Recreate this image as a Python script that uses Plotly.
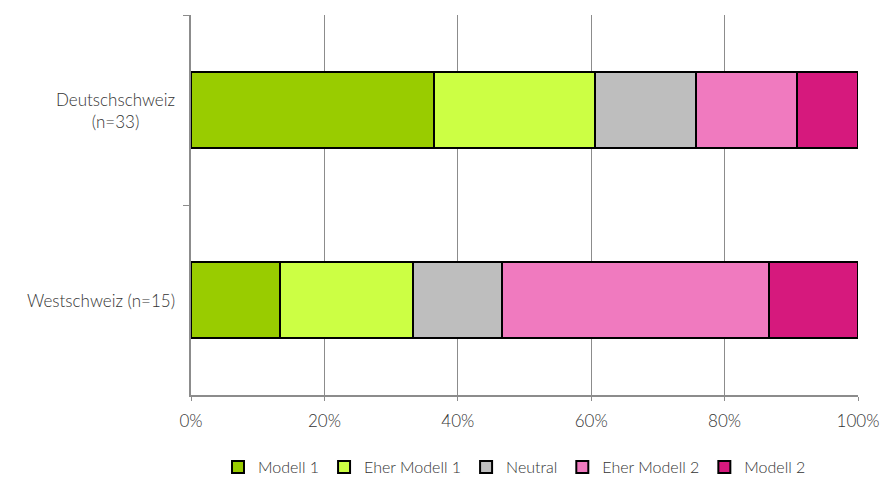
import plotly.graph_objects as go

# Regions (top to bottom) and share of answers per category, in percent
regions = ["Deutschschweiz<br>(n=33)", "Westschweiz (n=15)"]
categories = ["Modell 1", "Eher Modell 1", "Neutral", "Eher Modell 2", "Modell 2"]
modell_1 = [36.36, 13.33]
eher_modell_1 = [24.24, 20.0]
neutral = [15.15, 13.33]
eher_modell_2 = [15.15, 40.0]
modell_2 = [9.09, 13.33]
x_ticks = [0, 20, 40, 60, 80, 100]
x_tick_labels = ["0%", "20%", "40%", "60%", "80%", "100%"]

series = [modell_1, eher_modell_1, neutral, eher_modell_2, modell_2]
colors = ["#99CC00", "#CCFF44", "#BEBEBE", "#F07ABF", "#D6197D"]

font_family = "Lato, 'Open Sans', sans-serif"
text_color = "#333333"
axis_grey = "#8C8C8C"

fig = go.Figure()
for name, vals, col in zip(categories, series, colors):
    fig.add_trace(go.Bar(
        name=name,
        y=regions,
        x=vals,
        orientation="h",
        marker=dict(color=col, line=dict(color="#000000", width=2)),
        hoverinfo="x+name",
    ))

# Region labels, centred line by line, to the left of the axis
for reg in regions:
    fig.add_annotation(
        text=reg,
        xref="paper", x=0, xanchor="right", xshift=-14,
        yref="y", y=reg, yanchor="middle",
        align="center",
        showarrow=False,
        font=dict(family=font_family, size=17, color=text_color, weight=300),
    )

fig.update_layout(
    barmode="stack",
    bargap=0.6,
    width=881,
    height=477,
    margin=dict(l=191, r=23, t=15, b=82, autoexpand=False),
    plot_bgcolor="white",
    paper_bgcolor="white",
    font=dict(family=font_family, size=17, color=text_color, weight=300),
    legend=dict(
        orientation="h",
        x=0.485, xanchor="center",
        y=-0.19, yanchor="middle",
        font=dict(size=16, color=text_color, weight=300),
        itemwidth=30,
        traceorder="normal",
    ),
    xaxis=dict(
        range=[0, 100],
        tickvals=x_ticks,
        ticktext=x_tick_labels,
        showgrid=True,
        gridcolor=axis_grey,
        gridwidth=1,
        showline=True,
        linecolor=axis_grey,
        linewidth=2,
        ticks="outside",
        ticklen=4,
        tickcolor=axis_grey,
        ticklabelstandoff=6,
        zeroline=False,
        fixedrange=True,
    ),
    yaxis=dict(
        categoryorder="array",
        categoryarray=regions,
        autorange="reversed",
        showline=True,
        linecolor=axis_grey,
        linewidth=2,
        ticks="outside",
        tickson="boundaries",
        ticklen=6,
        tickcolor=axis_grey,
        showticklabels=False,
        showgrid=False,
        fixedrange=True,
    ),
)

fig.write_html("out.html")
